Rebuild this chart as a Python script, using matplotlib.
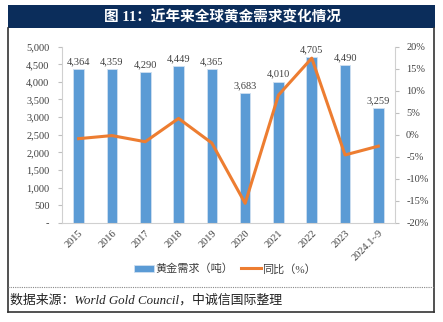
import matplotlib
matplotlib.use("Agg")
import matplotlib.pyplot as plt
from matplotlib.patches import Rectangle
from matplotlib.lines import Line2D
import numpy as np

plt.rcParams['font.family'] = ['Liberation Serif', 'Noto Sans CJK SC', 'DejaVu Sans']

# 数据
years = ["2015", "2016", "2017", "2018", "2019", "2020", "2021", "2022", "2023", "2024.1~9"]
demand = [4364, 4359, 4290, 4449, 4365, 3683, 4010, 4705, 4490, 3259]
yoy = [-0.9, -0.2, -1.6, 3.7, -1.9, -15.6, 9.0, 17.4, -4.6, -2.6]

W, H = 443, 322
fig = plt.figure(figsize=(W / 100, H / 100), dpi=100)

def fx(px):
    return px / W

def fy(py):
    return 1 - py / H

# 标题栏
fig.patches.append(Rectangle((fx(8), fy(28)), fx(427), 23 / H, transform=fig.transFigure,
                             facecolor="#0b2d5b", edgecolor="none"))
fig.text(fx(222), fy(16.5), "图 11：近年来全球黄金需求变化情况", color="white", fontsize=10.5,
         fontweight="bold", ha="center", va="center",
         family=['Liberation Serif', 'Noto Sans CJK SC'])

# 外框
fig.lines.append(Line2D([fx(8), fx(8)], [fy(28), fy(312)], transform=fig.transFigure, color="#333333", lw=1.2))
fig.lines.append(Line2D([fx(434), fx(434)], [fy(28), fy(312)], transform=fig.transFigure, color="#333333", lw=1.2))
fig.lines.append(Line2D([fx(8), fx(434)], [fy(312), fy(312)], transform=fig.transFigure, color="#333333", lw=1.2))
fig.lines.append(Line2D([fx(8), fx(434)], [fy(286.5), fy(286.5)], transform=fig.transFigure, color="#888888",
                        lw=0.8, ls=(0, (1, 1))))

fig.text(fx(10), fy(300.5), "数据来源：World Gold Council，中诚信国际整理", fontsize=9.3, style="italic",
         ha="left", va="center", color="#222222", family=['Liberation Serif', 'Noto Sans CJK SC'])

# 主图
ax = fig.add_axes([fx(62), fy(222.7), fx(395 - 62), (222.7 - 46.7) / H])
x = np.arange(len(years))
bars = ax.bar(x, demand, width=0.32, color="#5b9bd5", edgecolor="#cfe0f1", linewidth=0.6,
              label="黄金需求（吨）", zorder=2)
for xi, v in zip(x, demand):
    ax.text(xi, v + 80, f"{v:,}", ha="center", va="bottom", fontsize=7.5, color="#404040")

ax.set_ylim(0, 5000)
ax.set_yticks(np.arange(0, 5001, 500))
ax.set_yticklabels(["-"] + [f"{v:,}" for v in range(500, 5001, 500)])
ax.set_xlim(-0.5, len(years) - 0.5)
ax.set_xticks(x)
ax.set_xticklabels(years, rotation=45, ha="right", rotation_mode="anchor")
ax.tick_params(axis="y", labelsize=7.5, colors="#404040", length=3, color="#bfbfbf", pad=6)
ax.tick_params(axis="x", labelsize=7.5, colors="#404040", length=0, pad=4)
for s in ["top", "right"]:
    ax.spines[s].set_visible(False)
ax.spines["left"].set_color("#d0d0d0")
ax.spines["bottom"].set_color("#d0d0d0")

ax2 = ax.twinx()
ln, = ax2.plot(x, yoy, color="#ed7d31", lw=2.2, label="同比（%）", zorder=3)
ax2.set_ylim(-20, 20)
ax2.set_yticks(np.arange(-20, 21, 5))
ax2.set_yticklabels([f"{v}%" for v in range(-20, 21, 5)])
ax2.tick_params(axis="y", labelsize=7.5, colors="#404040", length=3, color="#bfbfbf", pad=5)
for s in ["top", "left", "bottom"]:
    ax2.spines[s].set_visible(False)
ax2.spines["right"].set_color("#d0d0d0")

fig.legend([bars, ln], ["黄金需求（吨）", "同比（%）"], loc="center", bbox_to_anchor=(fx(225), fy(269)),
           ncol=2, frameon=False, fontsize=8, handlelength=1.8, columnspacing=0.7, handletextpad=0.1,
           labelcolor="#404040")

fig.savefig("out.png", dpi=100)
